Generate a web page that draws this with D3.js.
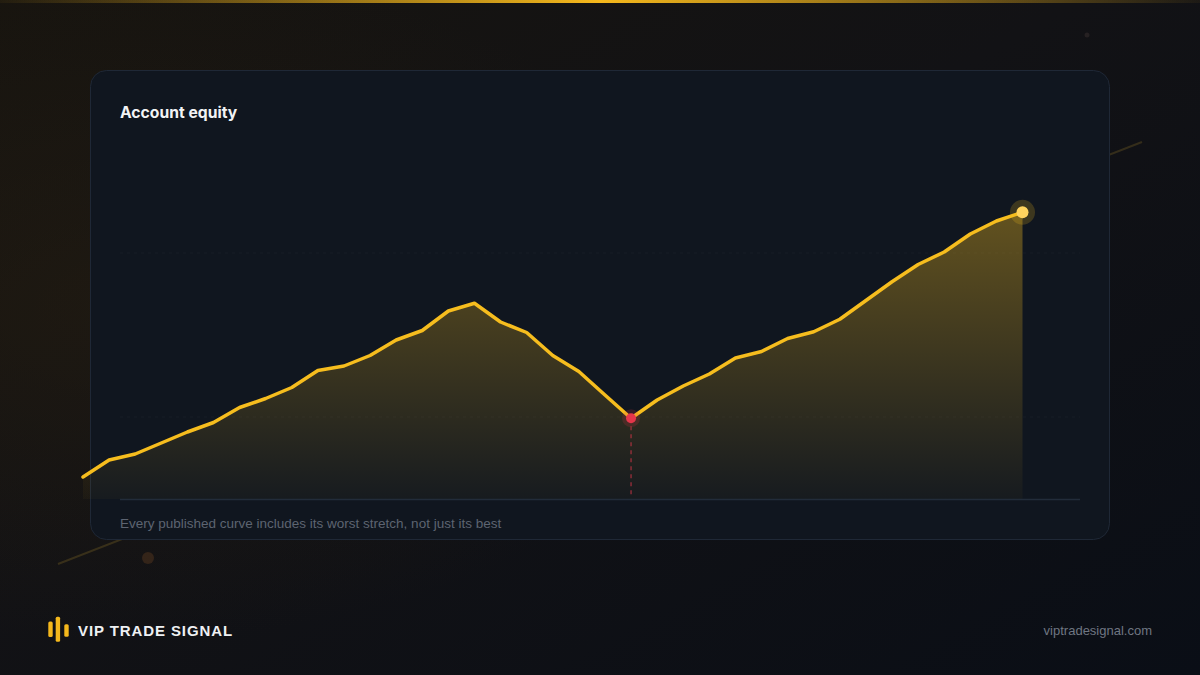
<!DOCTYPE html>
<html><head><meta charset="utf-8">
<script src="https://cdn.jsdelivr.net/npm/d3@7"></script>
<style>html,body{margin:0;padding:0;background:#0b0f17;}svg{display:block;}</style>
</head><body>
<script>
// ---- data ----
const title = "Account equity";
const caption = "Every published curve includes its worst stretch, not just its best";
const brand = "VIP TRADE SIGNAL";
const site = "viptradesignal.com";
const periods = d3.range(37);
const equity = [108.8,115.6,118.0,122.4,126.8,130.6,136.6,140.2,144.6,151.4,153.2,157.4,163.6,167.4,175.2,178.3,
  170.8,166.6,157.4,151.0,141.6,132.3,139.6,145.2,150.0,156.4,159.0,164.2,166.9,171.9,179.4,186.9,193.8,198.8,206.0,211.2,214.7];
const gridValues = [132.8, 198.4];
const yDomain = [100, 220];

(function(){
const W = 1200, H = 675;
const svg = d3.select("body").append("svg").attr("width", W).attr("height", H);
const defs = svg.append("defs");

// background
const bg = defs.append("linearGradient").attr("id","bg").attr("x1","0").attr("y1","0").attr("x2","1").attr("y2","1");
bg.append("stop").attr("offset","0").attr("stop-color","#17140f");
bg.append("stop").attr("offset","0.45").attr("stop-color","#121215");
bg.append("stop").attr("offset","1").attr("stop-color","#0a0e16");
svg.append("rect").attr("width",W).attr("height",H).attr("fill","url(#bg)");
const glow = defs.append("radialGradient").attr("id","glowL").attr("cx","0.1").attr("cy","0.45").attr("r","0.5");
glow.append("stop").attr("offset","0").attr("stop-color","#2a2010").attr("stop-opacity",0.45);
glow.append("stop").attr("offset","1").attr("stop-color","#2a2010").attr("stop-opacity",0);
svg.append("rect").attr("width",W).attr("height",H).attr("fill","url(#glowL)");

// top accent line
const topG = defs.append("linearGradient").attr("id","topLine");
topG.append("stop").attr("offset","0").attr("stop-color","#f5b81c").attr("stop-opacity",0.05);
topG.append("stop").attr("offset","0.5").attr("stop-color","#f5b81c").attr("stop-opacity",1);
topG.append("stop").attr("offset","1").attr("stop-color","#f5b81c").attr("stop-opacity",0.05);
svg.append("rect").attr("x",0).attr("y",0).attr("width",W).attr("height",3).attr("fill","url(#topLine)");

// faint decorative diagonal + dots
svg.append("line").attr("x1",58).attr("y1",564).attr("x2",1142).attr("y2",142)
  .attr("stroke","#c9a030").attr("stroke-opacity",0.2).attr("stroke-width",2);
svg.append("circle").attr("cx",148).attr("cy",558).attr("r",6).attr("fill","#5a3a20").attr("opacity",0.45);
svg.append("circle").attr("cx",1087).attr("cy",35).attr("r",2.5).attr("fill","#3a3030").attr("opacity",0.5);

// card
svg.append("rect").attr("x",90.5).attr("y",70.5).attr("width",1019).attr("height",469).attr("rx",16)
  .attr("fill","#10161f").attr("stroke","#1f2836").attr("stroke-width",1);

svg.append("text").attr("x",120).attr("y",118).text(title)
  .attr("font-family","Inter, 'Liberation Sans', sans-serif").attr("font-weight",700)
  .attr("font-size",15.7).attr("fill","#f2f3f5");

// scales
const x = d3.scaleLinear().domain([0, periods.length-1]).range([83, 1022.5]);
const y = d3.scaleLinear().domain(yDomain).range([499, 199]);

// grid
svg.append("g").selectAll("line").data(gridValues).join("line")
  .attr("x1",120).attr("x2",1080).attr("y1",d=>y(d)).attr("y2",d=>y(d))
  .attr("stroke","#ffffff").attr("stroke-opacity",0.035).attr("stroke-dasharray","3,4");

// area gradient
const ag = defs.append("linearGradient").attr("id","areaG").attr("gradientUnits","userSpaceOnUse")
  .attr("x1",0).attr("y1",y(d3.max(equity))).attr("x2",0).attr("y2",499);
ag.append("stop").attr("offset","0").attr("stop-color","#f5bd1f").attr("stop-opacity",0.36);
ag.append("stop").attr("offset","1").attr("stop-color","#f5bd1f").attr("stop-opacity",0.03);

const area = d3.area().x((d,i)=>x(i)).y0(y(yDomain[0])).y1(d=>y(d));
svg.append("path").datum(equity).attr("d",area).attr("fill","url(#areaG)");

// baseline
svg.append("line").attr("x1",120).attr("x2",1080).attr("y1",499.5).attr("y2",499.5)
  .attr("stroke","#222c3a").attr("stroke-width",1.5);

// max drawdown trough: largest drop from running peak
let peak = -Infinity, worst = 0, minI = 0;
equity.forEach((v,i)=>{ peak = Math.max(peak, v); if (peak - v > worst) { worst = peak - v; minI = i; } });

svg.append("line").attr("x1",x(minI)).attr("x2",x(minI)).attr("y1",y(equity[minI])).attr("y2",497)
  .attr("stroke","#e0384a").attr("stroke-opacity",0.7).attr("stroke-width",1.2).attr("stroke-dasharray","4,4");

// line
const line = d3.line().x((d,i)=>x(i)).y(d=>y(d));
svg.append("path").datum(equity).attr("d",line).attr("fill","none")
  .attr("stroke","#f6bd1e").attr("stroke-width",3.5).attr("stroke-linejoin","round").attr("stroke-linecap","round");

svg.append("circle").attr("cx",x(minI)).attr("cy",y(equity[minI])).attr("r",9).attr("fill","#e0384a").attr("opacity",0.18);
svg.append("circle").attr("cx",x(minI)).attr("cy",y(equity[minI])).attr("r",5).attr("fill","#e5364a");

const last = equity.length-1;
svg.append("circle").attr("cx",x(last)).attr("cy",y(equity[last])).attr("r",12.5).attr("fill","#f6bd1e").attr("opacity",0.2);
svg.append("circle").attr("cx",x(last)).attr("cy",y(equity[last])).attr("r",6).attr("fill","#ffd35e");

// caption
svg.append("text").attr("x",120).attr("y",527.5).text(caption)
  .attr("font-family","'Liberation Sans', Arial, sans-serif").attr("font-size",13.5).attr("fill","#5d6471");

// footer brand
const logo = svg.append("g").attr("fill","#f5b81c");
[[48.3,621.5,4.4,15.5],[55.7,616.7,4.4,25],[64.3,624.3,4.4,12.5]].forEach(b=>{
  logo.append("rect").attr("x",b[0]).attr("y",b[1]).attr("width",b[2]).attr("height",b[3]).attr("rx",1.5);
});
svg.append("text").attr("x",78).attr("y",635.5).text(brand)
  .attr("font-family","'Liberation Sans', Arial, sans-serif").attr("font-weight",700)
  .attr("font-size",15).attr("letter-spacing",0.9).attr("fill","#eef0f3");
svg.append("text").attr("x",1152).attr("y",635).attr("text-anchor","end").text(site)
  .attr("font-family","'Liberation Sans', Arial, sans-serif").attr("font-size",13).attr("fill","#6f7682");
})();
</script>
</body></html>
